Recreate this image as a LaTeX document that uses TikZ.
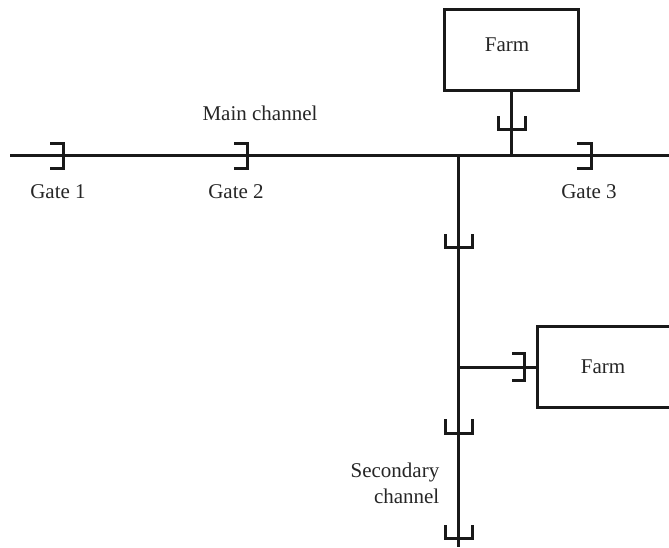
\documentclass[tikz,border=0pt]{standalone}
\usepackage{fontspec}
\setmainfont{Liberation Serif}
\tikzset{
  wire/.style={draw=black!90,line width=3pt},
  farmbox/.style={draw=black!90,line width=3pt,minimum width=#1,minimum height=81pt,inner sep=0pt,fill=white},
  lbl/.style={inner sep=0pt,anchor=base,font=\fontsize{21}{24}\selectfont,text=black!85},
  gatemark/.style={draw=black!90,line width=3pt,line cap=butt,line join=miter}
}
\begin{document}
\begin{tikzpicture}[x=1pt,y=-1pt]
\useasboundingbox (0,0) rectangle (669,547);
% boxes
\node[farmbox=134pt] (farmA) at (511,49.5) {};
\node[farmbox=134pt] (farmB) at (604,367) {};
\node[lbl] (farmAtext) at (507,51) {Farm};
\node[lbl] (farmBtext) at (603,373) {Farm};
% channel end points and junctions
\coordinate (mainL) at (10,155.5);
\coordinate (mainR) at (669,155.5);
\coordinate (secTop) at (458.5,155.5);
\coordinate (secBot) at (458.5,547);
\coordinate (jA) at (511,155.5);
\coordinate (jB) at (458.5,367);
% connectors
\draw[wire] (mainL) -- (mainR);
\draw[wire] (secTop) -- (secBot);
\draw[wire] (farmA.south) -- (jA);
\draw[wire] (jB) -- (farmB.west);
% gates on main channel
\draw[gatemark] (50,143) -- (63,143) -- (63,168.5) -- (50,168.5);
\draw[gatemark] (234,143) -- (247,143) -- (247,168.5) -- (234,168.5);
\draw[gatemark] (577,143) -- (591,143) -- (591,168.5) -- (577,168.5);
% gate on farm branch
\draw[gatemark] (512,353) -- (524.5,353) -- (524.5,380.5) -- (512,380.5);
% gates on vertical lines
\draw[gatemark] (498,116) -- (498,129.5) -- (525,129.5) -- (525,116);
\draw[gatemark] (445,234) -- (445,247.5) -- (472,247.5) -- (472,234);
\draw[gatemark] (445,419) -- (445,433) -- (472,433) -- (472,419);
\draw[gatemark] (445,525) -- (445,538.5) -- (472,538.5) -- (472,525);
% labels
\node[lbl] (tMain) at (260,120) {Main channel};
\node[lbl] (tG1) at (58,198) {Gate 1};
\node[lbl] (tG2) at (236,198) {Gate 2};
\node[lbl] (tG3) at (589,198) {Gate 3};
\node[lbl,anchor=base east] (tSec1) at (439.5,477) {Secondary};
\node[lbl,anchor=base east] (tSec2) at (439.5,503) {channel};
\end{tikzpicture}
\end{document}
